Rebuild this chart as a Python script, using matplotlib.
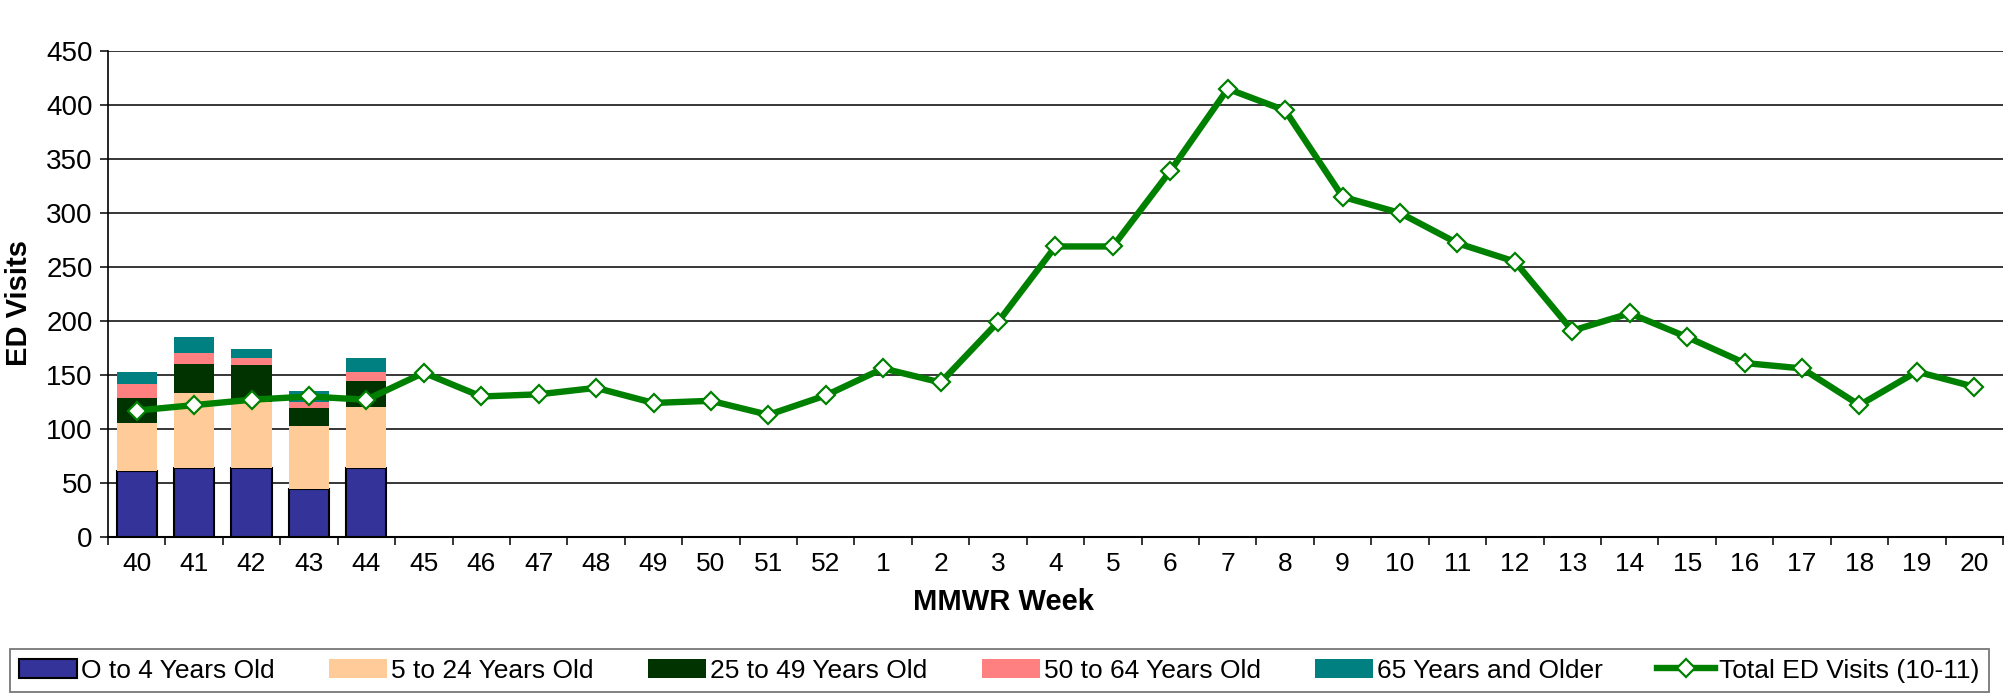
import matplotlib
matplotlib.use('Agg')
import matplotlib.pyplot as plt
import numpy as np

plt.rcParams['font.family'] = ['Liberation Sans', 'DejaVu Sans']

weeks = ['40', '41', '42', '43', '44', '45', '46', '47', '48', '49', '50', '51', '52',
         '1', '2', '3', '4', '5', '6', '7', '8', '9', '10', '11', '12', '13', '14', '15',
         '16', '17', '18', '19', '20']

# age group counts, only first five weeks reported
age_0_4 = [61, 64, 64, 44, 64]
age_5_24 = [44, 69, 61, 59, 56]
age_25_49 = [24, 27, 34, 16, 24]
age_50_64 = [13, 10, 7, 6, 9]
age_65_up = [11, 15, 8, 10, 13]

total_visits = [117, 122, 127, 130, 127, 152, 130, 132, 138, 124, 126, 113, 131,
                156, 143, 199, 269, 269, 339, 415, 395, 315, 300, 272, 255, 191,
                207, 185, 161, 156, 122, 153, 139]

age_labels = ['O to 4 Years Old', '5 to 24 Years Old', '25 to 49 Years Old',
              '50 to 64 Years Old', '65 Years and Older']
age_colours = ['#333399', '#FFCC99', '#003300', '#FF8080', '#008080']
line_label = 'Total ED Visits (10-11)'

fig = plt.figure(figsize=(20.07, 6.94), dpi=100)
ax = fig.add_axes([0.0538, 0.2265, 0.9442, 0.6999])

x = np.arange(len(weeks))
bx = x[:len(age_0_4)]
bottom = np.zeros(len(age_0_4))
handles = []
for i, (vals, lab, col) in enumerate(zip([age_0_4, age_5_24, age_25_49, age_50_64, age_65_up],
                                           age_labels, age_colours)):
    b = ax.bar(bx, vals, 0.7, bottom=bottom, color=col, label=lab,
               edgecolor='black' if i == 0 else col, linewidth=1.5 if i == 0 else 0, zorder=3)
    handles.append(b)
    bottom += np.array(vals)

line, = ax.plot(x, total_visits, color='#008000', lw=4.6, marker='D', ms=9,
                mfc='white', mec='#008000', mew=1.6, label=line_label, zorder=4)
handles.append(line)

ax.set_xlim(-0.5, len(weeks) - 0.5)
ax.set_ylim(0, 450)
ax.set_yticks(np.arange(0, 451, 50))
ax.yaxis.grid(True, color='black', lw=1.1, zorder=0)
ax.set_axisbelow(True)

ax.set_xticks(x)
ax.set_xticklabels(weeks)
ax.set_xticks(np.arange(-0.5, len(weeks), 1), minor=True)
ax.tick_params(axis='x', which='major', length=0, pad=11, labelsize=19)
ax.tick_params(axis='x', which='minor', length=6, width=1.1, direction='out')
ax.tick_params(axis='y', length=6, width=1.1, pad=5, labelsize=20)

for s in ['top', 'right']:
    ax.spines[s].set_visible(False)
ax.spines['left'].set_linewidth(1.2)
ax.spines['bottom'].set_linewidth(1.5)

ax.set_ylabel('ED Visits', fontsize=21, fontweight='bold')
ax.yaxis.set_label_coords(-0.0396, 0.481)
fig.text(0.5, 1 - 602 / 694, 'MMWR Week', fontsize=21, fontweight='bold',
         ha='center', va='center')

leg = fig.legend(handles=handles, labels=age_labels + [line_label],
                 loc='lower left', bbox_to_anchor=(0.005, 0.003, 0.986, 0.066),
                 bbox_transform=fig.transFigure, mode='expand', ncol=6, fontsize=19,
                 handlelength=2.2, handletextpad=0.15, borderpad=0.35, borderaxespad=0,
                 frameon=True, fancybox=False, edgecolor='#555555', handleheight=0.7)
leg.get_frame().set_linewidth(1.3)

fig.savefig('out.png', dpi=100)
